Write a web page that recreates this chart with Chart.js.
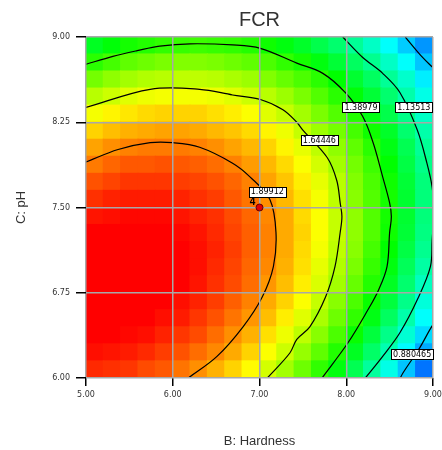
<!DOCTYPE html>
<html lang="en">
<head>
<meta charset="UTF-8">
<title>FCR - contour</title>
<script src="https://cdn.jsdelivr.net/npm/chart.js"></script>
<style>
  body { margin: 0; background: #fff; }
  canvas { display: block; }
</style>
</head>
<body>
<canvas id="fcrChart" width="442" height="450"></canvas>
<script>
// B: Hardness, cell centres
const hardness = [5.1, 5.3, 5.5, 5.7, 5.9, 6.1, 6.3, 6.5, 6.7, 6.9,
                  7.1, 7.3, 7.5, 7.7, 7.9, 8.1, 8.3, 8.5, 8.7, 8.9];
// C: pH, band edges (bottom to top)
const phEdges = [6.00, 6.15, 6.30, 6.45, 6.60, 6.75, 6.90, 7.05, 7.20, 7.35, 7.50,
                 7.65, 7.80, 7.95, 8.10, 8.25, 8.40, 8.55, 8.70, 8.85, 9.00];
// FCR, one row per pH band (bottom first)
const fcrGrid = [
  [2.05,2.04,2.03,2.00,1.98,1.94,1.90,1.85,1.80,1.74,1.67,1.60,1.52,1.43,1.34,1.24,1.13,1.02,0.90,0.78],
  [2.09,2.08,2.07,2.05,2.02,1.99,1.95,1.91,1.86,1.80,1.73,1.66,1.58,1.50,1.41,1.31,1.21,1.10,0.98,0.86],
  [2.11,2.11,2.10,2.09,2.06,2.03,2.00,1.95,1.90,1.85,1.78,1.71,1.64,1.56,1.47,1.37,1.27,1.16,1.05,0.93],
  [2.13,2.13,2.13,2.11,2.09,2.07,2.03,1.99,1.94,1.89,1.83,1.76,1.69,1.61,1.52,1.43,1.33,1.22,1.11,0.99],
  [2.15,2.15,2.14,2.13,2.11,2.09,2.06,2.02,1.97,1.92,1.86,1.80,1.73,1.65,1.56,1.47,1.37,1.27,1.16,1.04],
  [2.15,2.15,2.15,2.14,2.13,2.11,2.08,2.04,2.00,1.95,1.89,1.83,1.76,1.68,1.60,1.51,1.41,1.31,1.20,1.08],
  [2.14,2.15,2.15,2.15,2.13,2.11,2.09,2.05,2.01,1.96,1.91,1.85,1.78,1.70,1.62,1.54,1.44,1.34,1.23,1.12],
  [2.13,2.14,2.14,2.14,2.13,2.11,2.09,2.06,2.02,1.97,1.92,1.86,1.79,1.72,1.64,1.56,1.46,1.36,1.26,1.15],
  [2.11,2.12,2.13,2.13,2.12,2.10,2.08,2.05,2.01,1.97,1.92,1.86,1.80,1.73,1.65,1.57,1.48,1.38,1.28,1.17],
  [2.08,2.09,2.10,2.10,2.10,2.08,2.06,2.04,2.00,1.96,1.91,1.86,1.79,1.73,1.65,1.57,1.48,1.39,1.29,1.18],
  [2.04,2.06,2.07,2.07,2.07,2.06,2.04,2.02,1.98,1.94,1.90,1.84,1.78,1.72,1.64,1.56,1.48,1.39,1.29,1.18],
  [1.99,2.01,2.03,2.03,2.03,2.02,2.01,1.99,1.96,1.92,1.87,1.82,1.76,1.70,1.63,1.55,1.47,1.38,1.28,1.18],
  [1.93,1.96,1.98,1.98,1.99,1.98,1.97,1.95,1.92,1.88,1.84,1.79,1.73,1.67,1.60,1.53,1.45,1.36,1.26,1.16],
  [1.87,1.90,1.92,1.93,1.93,1.93,1.92,1.90,1.87,1.84,1.80,1.75,1.70,1.64,1.57,1.50,1.42,1.33,1.24,1.14],
  [1.80,1.83,1.85,1.86,1.87,1.87,1.86,1.84,1.82,1.79,1.75,1.71,1.65,1.59,1.53,1.46,1.38,1.30,1.20,1.11],
  [1.72,1.75,1.77,1.79,1.80,1.80,1.80,1.78,1.76,1.73,1.69,1.65,1.60,1.54,1.48,1.41,1.33,1.25,1.16,1.07],
  [1.63,1.66,1.69,1.71,1.72,1.72,1.72,1.71,1.69,1.66,1.63,1.59,1.54,1.48,1.42,1.35,1.28,1.20,1.11,1.02],
  [1.53,1.57,1.60,1.62,1.63,1.64,1.64,1.63,1.61,1.59,1.55,1.51,1.47,1.42,1.36,1.29,1.22,1.14,1.06,0.96],
  [1.42,1.46,1.50,1.52,1.54,1.55,1.55,1.54,1.52,1.50,1.47,1.43,1.39,1.34,1.28,1.22,1.15,1.07,0.99,0.90],
  [1.31,1.35,1.39,1.41,1.43,1.44,1.45,1.44,1.43,1.41,1.38,1.34,1.30,1.25,1.20,1.14,1.07,0.99,0.91,0.83]
];

// contour lines, [hardness, pH] pairs
const contour189912 = [[5.00,7.90],[5.37,8.01],[5.74,8.07],[6.00,8.07],[6.31,8.03],[6.69,7.89],[6.89,7.77],
  [7.12,7.57],[7.19,7.28],[7.16,6.98],[7.03,6.71],[6.81,6.45],[6.51,6.19],[6.18,6.00]];
const contour164446 = [[5.00,8.38],[5.74,8.54],[6.31,8.54],[6.69,8.49],[7.01,8.45],[7.27,8.36],[7.43,8.25],
  [7.50,8.18],[7.78,7.94],[7.89,7.74],[7.93,7.54],[7.95,7.42],[7.93,7.28],[7.87,6.98],[7.76,6.71],
  [7.58,6.45],[7.43,6.34],[7.35,6.22],[7.09,6.00]];
const contour138979 = [[5.00,8.76],[5.31,8.83],[5.59,8.88],[5.85,8.92],[6.20,8.94],[6.69,8.93],[7.01,8.90],
  [7.43,8.77],[7.73,8.68],[7.99,8.51],[8.19,8.30],[8.31,8.07],[8.42,7.77],[8.50,7.54],[8.52,7.42],
  [8.50,7.28],[8.47,6.98],[8.37,6.77],[8.25,6.60],[8.02,6.31],[7.72,6.00]];
const contour113513 = [[7.96,9.00],[8.19,8.82],[8.42,8.68],[8.62,8.51],[8.82,8.18],[8.93,7.89],[8.99,7.68],
  [9.01,7.48],[8.99,7.21],[8.97,6.98],[8.82,6.69],[8.62,6.40],[8.42,6.19],[8.22,6.00]];
const contour0880465top = [[8.68,9.00],[8.88,8.82],[9.00,8.73],[9.08,8.67]];
const contour0880465bottom = [[9.08,6.53],[9.00,6.47],[8.85,6.27],[8.65,6.04],[8.61,5.98]];

const contourLabels = ["1.89912", "1.64446", "1.38979", "1.13513", "0.880465"];
const labelHardness = [7.09, 7.69, 8.17, 8.78, 8.76];
const labelPh = [7.64, 8.09, 8.38, 8.38, 6.21];

const designPoint = { hardness: 7.0, ph: 7.5, count: "4" };

// blue -> cyan -> green -> yellow -> red
function fcrColor(v) {
  let t = (v - 0.61) / 1.5;
  t = Math.max(0, Math.min(1, t));
  const stops = [[0,0,255],[0,255,255],[0,255,0],[255,255,0],[255,0,0]];
  const s = Math.min(3, Math.floor(t * 4));
  const f = t * 4 - s;
  const a = stops[s], b = stops[s + 1];
  const c = a.map((ch, i) => Math.round(ch + (b[i] - ch) * f));
  return `rgb(${c[0]},${c[1]},${c[2]})`;
}

const datasets = [];
fcrGrid.forEach((row, i) => {
  datasets.push({
    type: "bar",
    data: hardness.map((h) => ({ x: h, y: [phEdges[i], phEdges[i + 1]] })),
    backgroundColor: row.map(fcrColor),
    borderWidth: 0,
    grouped: false,
    barPercentage: 1,
    categoryPercentage: 1,
    inflateAmount: 0.6,
    order: 2
  });
});

[contour189912, contour164446, contour138979, contour113513, contour0880465top, contour0880465bottom]
  .forEach((pts) => {
    datasets.push({
      type: "line",
      data: pts.map((p) => ({ x: p[0], y: p[1] })),
      borderColor: "#000",
      borderWidth: 1.2,
      pointRadius: 0,
      tension: 0.35,
      fill: false,
      order: 1
    });
  });

const overlay = {
  id: "overlay",
  afterDraw(chart) {
    const { ctx, scales: { x, y } } = chart;
    ctx.save();
    ctx.font = '8px "DejaVu Sans"';
    ctx.textAlign = "center";
    ctx.textBaseline = "middle";
    contourLabels.forEach((txt, i) => {
      const px = x.getPixelForValue(labelHardness[i]);
      const py = y.getPixelForValue(labelPh[i]);
      const w = ctx.measureText(txt).width + 4;
      ctx.fillStyle = "#fff";
      ctx.fillRect(Math.round(px - w / 2), Math.round(py - 5), Math.round(w), 10);
      ctx.strokeStyle = "#000";
      ctx.lineWidth = 1;
      ctx.strokeRect(Math.round(px - w / 2) + 0.5, Math.round(py - 5) + 0.5, Math.round(w), 10);
      ctx.fillStyle = "#000";
      ctx.fillText(txt, px, py + 0.5);
    });
    // design point
    const dx = x.getPixelForValue(designPoint.hardness);
    const dy = y.getPixelForValue(designPoint.ph);
    ctx.beginPath();
    ctx.arc(dx, dy, 3.5, 0, Math.PI * 2);
    ctx.fillStyle = "#e00000";
    ctx.fill();
    ctx.strokeStyle = "#600";
    ctx.lineWidth = 1;
    ctx.stroke();
    ctx.font = 'bold 10px "Liberation Sans"';
    ctx.fillStyle = "#000";
    ctx.fillText(designPoint.count, dx - 7, dy - 5);
    ctx.restore();
  }
};

new Chart(document.getElementById("fcrChart"), {
  type: "bar",
  data: { datasets },
  plugins: [overlay],
  options: {
    responsive: false,
    animation: false,
    events: [],
    layout: { padding: { left: 0, right: 0, top: 0, bottom: 0 } },
    plugins: {
      legend: { display: false },
      tooltip: { enabled: false },
      title: {
        display: true,
        text: "FCR",
        fullSize: false,
        color: "#333",
        font: { family: "Liberation Sans", size: 20, weight: "normal" },
        padding: { top: 8, bottom: 5 }
      }
    },
    scales: {
      x: {
        type: "linear",
        min: 5, max: 9,
        offset: false,
        grid: { color: "#a8a8a8", lineWidth: 1.5, tickColor: "#000", tickLength: 8, offset: false, z: 1 },
        border: { display: false },
        ticks: {
          stepSize: 1,
          maxRotation: 0,
          padding: 4,
          color: "#333",
          font: { family: "DejaVu Sans", size: 8 },
          callback: (v) => Number(v).toFixed(2)
        },
        title: {
          display: true,
          text: "B: Hardness",
          color: "#333",
          font: { family: "Liberation Sans", size: 13 },
          padding: { top: 0, bottom: 1 }
        },
        afterFit: (s) => { s.height = 72; s.paddingRight = 9; s.paddingLeft = 0; }
      },
      y: {
        type: "linear",
        min: 6, max: 9,
        grid: { color: "#a8a8a8", lineWidth: 1.5, tickColor: "#000", tickLength: 10, z: 1 },
        border: { display: false },
        ticks: {
          stepSize: 0.75,
          padding: 6,
          color: "#333",
          font: { family: "DejaVu Sans", size: 8 },
          callback: (v) => Number(v).toFixed(2)
        },
        title: {
          display: true,
          text: "C: pH",
          color: "#333",
          font: { family: "Liberation Sans", size: 13 },
          padding: { top: 14, bottom: 0 }
        },
        afterFit: (s) => { s.width = 86; }
      }
    }
  }
});
</script>
</body>
</html>
